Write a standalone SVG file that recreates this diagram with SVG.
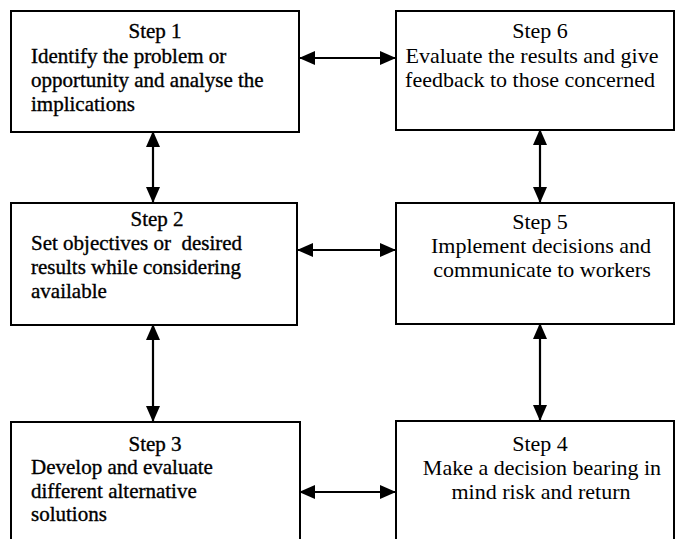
<svg xmlns="http://www.w3.org/2000/svg" width="677" height="539" viewBox="0 0 677 539">
  <style>
    .box { fill: #ffffff; stroke: #000000; stroke-width: 2; }
    .lbl { font-family: "Liberation Serif", "Times New Roman", serif; font-size: 21px; fill: #000000; white-space: pre; }
    .wide { font-size: 22px; }
    .heavy { stroke: #000000; stroke-width: 0.35; }
    .mid { text-anchor: middle; }
    .link { stroke: #000000; stroke-width: 2.2; fill: none; marker-start: url(#head); marker-end: url(#head); }
  </style>
  <defs>
    <marker id="head" viewBox="0 0 16 14" refX="15" refY="7" markerWidth="16" markerHeight="14" markerUnits="userSpaceOnUse" orient="auto-start-reverse">
      <path d="M0,0 L16,7 L0,14 Z" fill="#000000"/>
    </marker>
  </defs>
  <rect width="677" height="539" fill="#ffffff"/>

  <!-- connectors: every link is two-way -->
  <g id="connectors">
    <line class="link" x1="300" y1="58" x2="395" y2="58"/>
    <line class="link" x1="298" y1="250" x2="395" y2="250"/>
    <line class="link" x1="300" y1="492" x2="395" y2="492"/>
    <line class="link" x1="153" y1="132" x2="153" y2="202"/>
    <line class="link" x1="153" y1="325" x2="153" y2="421"/>
    <line class="link" x1="540" y1="130" x2="540" y2="202"/>
    <line class="link" x1="540" y1="324" x2="540" y2="420"/>
  </g>

  <g id="step1">
    <rect class="box" x="11" y="11" width="288" height="121"/>
    <text class="lbl heavy mid" x="155" y="38">Step 1</text>
    <text class="lbl heavy" x="31" y="63">Identify the problem or</text>
    <text class="lbl heavy" x="31" y="87">opportunity and analyse the</text>
    <text class="lbl heavy" x="31" y="111">implications</text>
  </g>

  <g id="step2">
    <rect class="box" x="11" y="203" width="286" height="122"/>
    <text class="lbl heavy mid" x="157" y="226">Step 2</text>
    <text class="lbl heavy" x="31" y="250" xml:space="preserve">Set objectives or  desired</text>
    <text class="lbl heavy" x="31" y="274">results while considering</text>
    <text class="lbl heavy" x="31" y="298">available</text>
  </g>

  <g id="step3">
    <rect class="box" x="11" y="422" width="289" height="140"/>
    <text class="lbl heavy mid" x="155" y="451">Step 3</text>
    <text class="lbl heavy" x="31" y="474">Develop and evaluate</text>
    <text class="lbl heavy" x="31" y="498">different alternative</text>
    <text class="lbl heavy" x="31" y="521">solutions</text>
  </g>

  <g id="step4">
    <rect class="box" x="396" y="421" width="278" height="140"/>
    <text class="lbl wide mid" x="540" y="451">Step 4</text>
    <text class="lbl wide mid" x="542" y="475">Make a decision bearing in</text>
    <text class="lbl wide mid" x="541" y="499">mind risk and return</text>
  </g>

  <g id="step5">
    <rect class="box" x="396" y="203" width="278" height="121"/>
    <text class="lbl wide mid" x="540" y="229">Step 5</text>
    <text class="lbl wide mid" x="541" y="253">Implement decisions and</text>
    <text class="lbl wide mid" x="542" y="277">communicate to workers</text>
  </g>

  <g id="step6">
    <rect class="box" x="396" y="11" width="278" height="119"/>
    <text class="lbl wide mid" x="540" y="38">Step 6</text>
    <text class="lbl wide mid" x="532" y="63">Evaluate the results and give</text>
    <text class="lbl wide mid" x="530" y="87">feedback to those concerned</text>
  </g>
</svg>
